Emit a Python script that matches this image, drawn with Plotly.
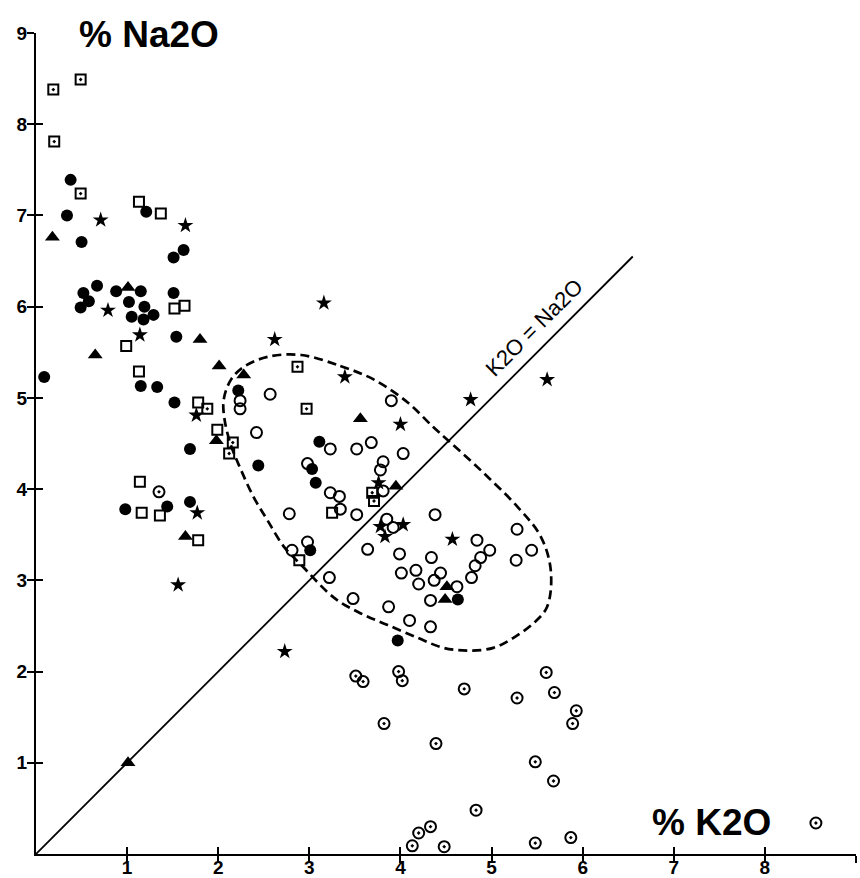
import plotly.graph_objects as go

# ---------------- data ----------------
filled_circle_x = [0.38, 1.21, 0.34, 0.50, 1.62, 1.51, 0.67, 0.88, 1.15, 1.51, 0.52, 0.58, 0.49, 1.02,
                   1.19, 1.05, 1.18, 1.29, 1.54, 0.09, 1.15, 1.33, 2.22, 1.52, 1.69, 2.44, 0.98, 1.44,
                   1.69, 3.11, 3.03, 3.07, 3.01, 4.63, 3.97]
filled_circle_y = [7.39, 7.04, 7.00, 6.71, 6.62, 6.54, 6.23, 6.17, 6.17, 6.15, 6.15, 6.06, 5.99, 6.05,
                   6.00, 5.89, 5.86, 5.91, 5.67, 5.23, 5.13, 5.12, 5.08, 4.95, 4.44, 4.26, 3.78, 3.81,
                   3.86, 4.52, 4.22, 4.07, 3.33, 2.79, 2.34]

triangle_x = [0.18, 1.01, 1.80, 0.65, 2.01, 2.28, 1.98, 1.64, 3.56, 3.95, 4.51, 4.49, 1.01]
triangle_y = [6.76, 6.21, 5.64, 5.47, 5.35, 5.25, 4.53, 3.48, 4.77, 4.03, 2.93, 2.79, 1.00]

star_x = [0.71, 1.64, 0.79, 1.14, 2.62, 1.76, 1.77, 1.56, 2.73, 3.39, 5.61, 4.77, 4.00, 3.76,
          3.78, 4.03, 3.83, 4.57, 3.16]
star_y = [6.95, 6.89, 5.96, 5.69, 5.64, 4.81, 3.74, 2.95, 2.22, 5.23, 5.20, 4.98, 4.71, 4.07,
          3.59, 3.61, 3.48, 3.45, 6.04]

open_square_x = [1.13, 1.37, 1.52, 1.63, 0.99, 1.13, 1.78, 1.99, 1.14, 1.16, 1.36, 1.78, 2.89, 3.25]
open_square_y = [7.15, 7.02, 5.98, 6.01, 5.57, 5.29, 4.95, 4.65, 4.08, 3.74, 3.71, 3.44, 3.22, 3.74]

dot_square_x = [0.49, 0.19, 0.20, 0.49, 2.87, 1.88, 2.16, 2.12, 2.97, 3.69, 3.71]
dot_square_y = [8.49, 8.38, 7.81, 7.24, 5.34, 4.88, 4.51, 4.39, 4.88, 3.96, 3.87]

open_circle_x = [2.57, 2.24, 2.24, 2.42, 2.78, 2.81, 3.90, 3.23, 3.52, 3.68, 4.03, 2.98, 3.81, 3.78,
                 3.81, 3.23, 3.33, 3.34, 3.52, 4.38, 3.85, 3.92, 4.84, 5.28, 5.44, 5.27, 4.98, 4.88,
                 4.82, 4.78, 2.98, 3.64, 3.99, 4.34, 4.01, 4.17, 4.44, 4.37, 4.20, 4.62, 4.33, 3.22,
                 3.48, 3.87, 4.10, 4.33]
open_circle_y = [5.04, 4.97, 4.88, 4.62, 3.73, 3.33, 4.97, 4.44, 4.44, 4.51, 4.39, 4.28, 4.30, 4.21,
                 3.98, 3.96, 3.92, 3.78, 3.72, 3.72, 3.67, 3.58, 3.44, 3.56, 3.33, 3.22, 3.33, 3.25,
                 3.16, 3.03, 3.42, 3.34, 3.29, 3.25, 3.08, 3.11, 3.08, 3.00, 2.96, 2.93, 2.78, 3.03,
                 2.80, 2.71, 2.56, 2.49]

dot_circle_x = [1.35, 3.51, 3.59, 3.98, 4.02, 4.70, 5.28, 5.60, 5.69, 5.93, 5.89, 3.82, 4.39, 5.48,
                5.68, 4.83, 4.33, 4.20, 4.13, 4.48, 5.48, 5.87, 8.56]
dot_circle_y = [3.97, 1.95, 1.89, 2.00, 1.90, 1.81, 1.71, 1.99, 1.77, 1.57, 1.43, 1.43, 1.21, 1.01,
                0.80, 0.48, 0.30, 0.23, 0.09, 0.08, 0.12, 0.18, 0.34]

# K2O = Na2O reference line
line_x = [0.0, 6.55]
line_y = [0.0, 6.55]

# dashed field outline
field_x = [2.91, 3.34, 3.71, 4.08, 4.36, 4.55, 4.91, 5.29, 5.54, 5.65, 5.61, 5.46, 5.24, 5.02, 4.74,
           4.47, 4.19, 3.86, 3.56, 3.27, 2.91, 2.72, 2.54, 2.39, 2.25, 2.14, 2.07, 2.06, 2.14, 2.28,
           2.54, 2.91]
field_y = [5.47, 5.35, 5.20, 4.95, 4.68, 4.51, 4.18, 3.80, 3.48, 3.11, 2.71, 2.53, 2.37, 2.26, 2.23,
           2.26, 2.37, 2.51, 2.64, 2.81, 3.17, 3.37, 3.66, 3.91, 4.21, 4.48, 4.76, 4.98, 5.20, 5.34,
           5.45, 5.47]

tick_vals = [1, 2, 3, 4, 5, 6, 7, 8, 9]
tick_text = ["1", "2", "3", "4", "5", "6", "7", "8", "9"]

FONT = "Liberation Sans"
BLACK = "black"

fig = go.Figure()

fig.add_trace(go.Scatter(x=line_x, y=line_y, mode="lines", xaxis="x2", yaxis="y2",
                         line=dict(color=BLACK, width=1.8), hoverinfo="skip", showlegend=False))
fig.add_trace(go.Scatter(x=field_x, y=field_y, mode="lines",
                         line=dict(color=BLACK, width=2.7, dash="9px,5px", shape="spline", smoothing=1.0),
                         hoverinfo="skip", showlegend=False))

def add_markers(xs, ys, symbol, size, lw=2, color=BLACK):
    fig.add_trace(go.Scatter(x=xs, y=ys, mode="markers", showlegend=False, cliponaxis=False,
                             marker=dict(symbol=symbol, size=size, color=color,
                                         line=dict(color=BLACK, width=lw))))

add_markers(open_circle_x, open_circle_y, "circle-open", 11, 2)
add_markers(dot_circle_x, dot_circle_y, "circle-open-dot", 11, 2)
add_markers(open_square_x, open_square_y, "square-open", 10, 2)
add_markers(dot_square_x, dot_square_y, "square-open-dot", 10, 2)
add_markers(filled_circle_x, filled_circle_y, "circle", 12, 0)
add_markers(triangle_x, triangle_y, "triangle-up", 13, 0)
add_markers(star_x, star_y, "star", 12, 0)

tickfont = dict(family=FONT, size=19, color=BLACK, weight="bold")
main_axis = dict(range=[0, 9], tickmode="array", tickvals=tick_vals, ticktext=tick_text,
                 showgrid=False, zeroline=False, showline=True, linecolor=BLACK, linewidth=2,
                 ticks="outside", ticklen=7, tickwidth=2, tickcolor=BLACK, tickfont=tickfont,
                 fixedrange=True, automargin=False)
over_axis = dict(range=[0, 9], tickmode="array", tickvals=tick_vals, showgrid=False,
                 zeroline=False, showline=False, ticks="inside", ticklen=7, tickwidth=2,
                 tickcolor=BLACK, showticklabels=False, fixedrange=True, automargin=False)

fig.update_layout(
    width=860, height=878,
    margin=dict(l=36, r=4, t=33, b=24),
    paper_bgcolor="white", plot_bgcolor="white",
    xaxis=dict(**main_axis, ticklabelstandoff=-12),
    yaxis=dict(**main_axis, ticklabelstandoff=-4),
    xaxis2=dict(**over_axis, overlaying="x", anchor="y2", side="bottom"),
    yaxis2=dict(**over_axis, overlaying="y", anchor="x2", side="left"),
    showlegend=False,
    annotations=[
        dict(x=1.24, y=8.98, xref="x", yref="y", text="% Na2O", showarrow=False,
             xanchor="center", yanchor="middle",
             font=dict(family=FONT, size=37, color=BLACK, weight="bold")),
        dict(x=7.41, y=0.34, xref="x", yref="y", text="% K2O", showarrow=False,
             xanchor="center", yanchor="middle",
             font=dict(family=FONT, size=37, color=BLACK, weight="bold")),
        dict(x=5.47, y=5.77, xref="x", yref="y", text="K2O = Na2O", showarrow=False,
             textangle=-45, xanchor="center", yanchor="middle",
             font=dict(family=FONT, size=22, color=BLACK)),
    ],
)

fig.write_html("out.html", config={"displayModeBar": False, "staticPlot": True},
               post_script="document.body.style.margin='0';document.body.style.overflow='hidden';")
